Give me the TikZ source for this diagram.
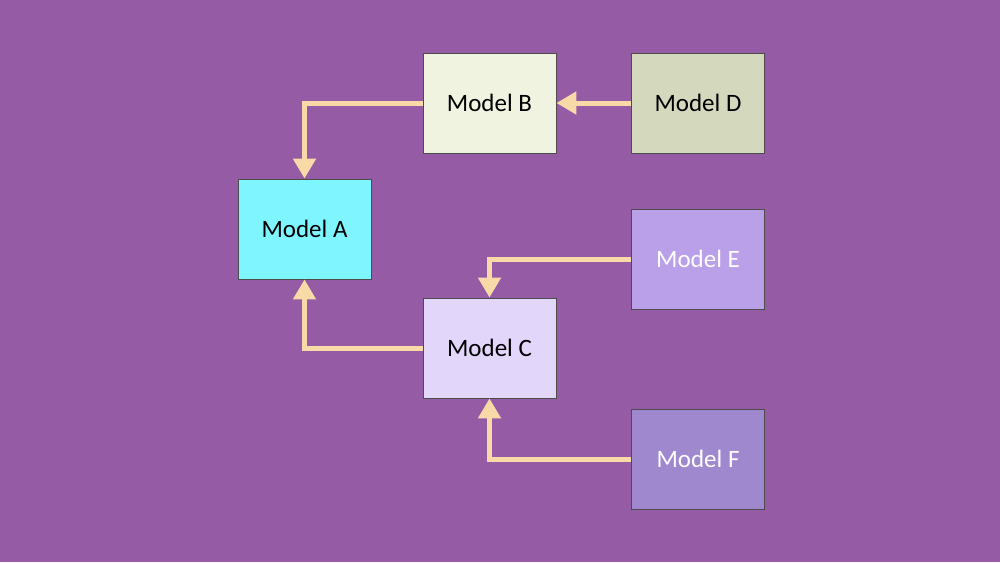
\documentclass[tikz,border=0pt]{standalone}
\usepackage{fontspec}
\setmainfont{Carlito}
\usetikzlibrary{arrows.meta}
\definecolor{bg}{HTML}{955BA5}
\definecolor{arr}{HTML}{F8D9A8}
\definecolor{ca}{HTML}{7FF6FF}
\definecolor{cb}{HTML}{F0F3E0}
\definecolor{cd}{HTML}{D4D8BC}
\definecolor{ce}{HTML}{B9A0E8}
\definecolor{cc}{HTML}{E3D6FB}
\definecolor{cf}{HTML}{A088CF}
\begin{document}
\begin{tikzpicture}[x=1pt,y=-1pt,
  box/.style={draw=black!70,line width=0.8pt,minimum width=133pt,minimum height=100pt,inner sep=0pt,font=\fontsize{25}{30}\selectfont},
  con/.style={draw=arr,line width=5pt,-{Triangle[length=20pt,width=22pt]}}]
\fill[bg] (0,0) rectangle (1000,562);
\useasboundingbox (0,0) rectangle (1000,562);
\node[box,fill=ca] (A) at (304.5,229) {Model A};
\node[box,fill=cb] (B) at (489.5,103) {Model B};
\node[box,fill=cd] (D) at (698,103) {Model D};
\node[box,fill=ce,text=white] (E) at (698,259) {Model E};
\node[box,fill=cc] (C) at (489.5,348) {Model C};
\node[box,fill=cf,text=white] (F) at (698,459) {Model F};
\draw[con] (B.west) -| (A.north);
\draw[con] (D.west) -- (B.east);
\draw[con] (E.west) -| (C.north);
\draw[con] (C.west) -| (A.south);
\draw[con] (F.west) -| (C.south);
\end{tikzpicture}
\end{document}
